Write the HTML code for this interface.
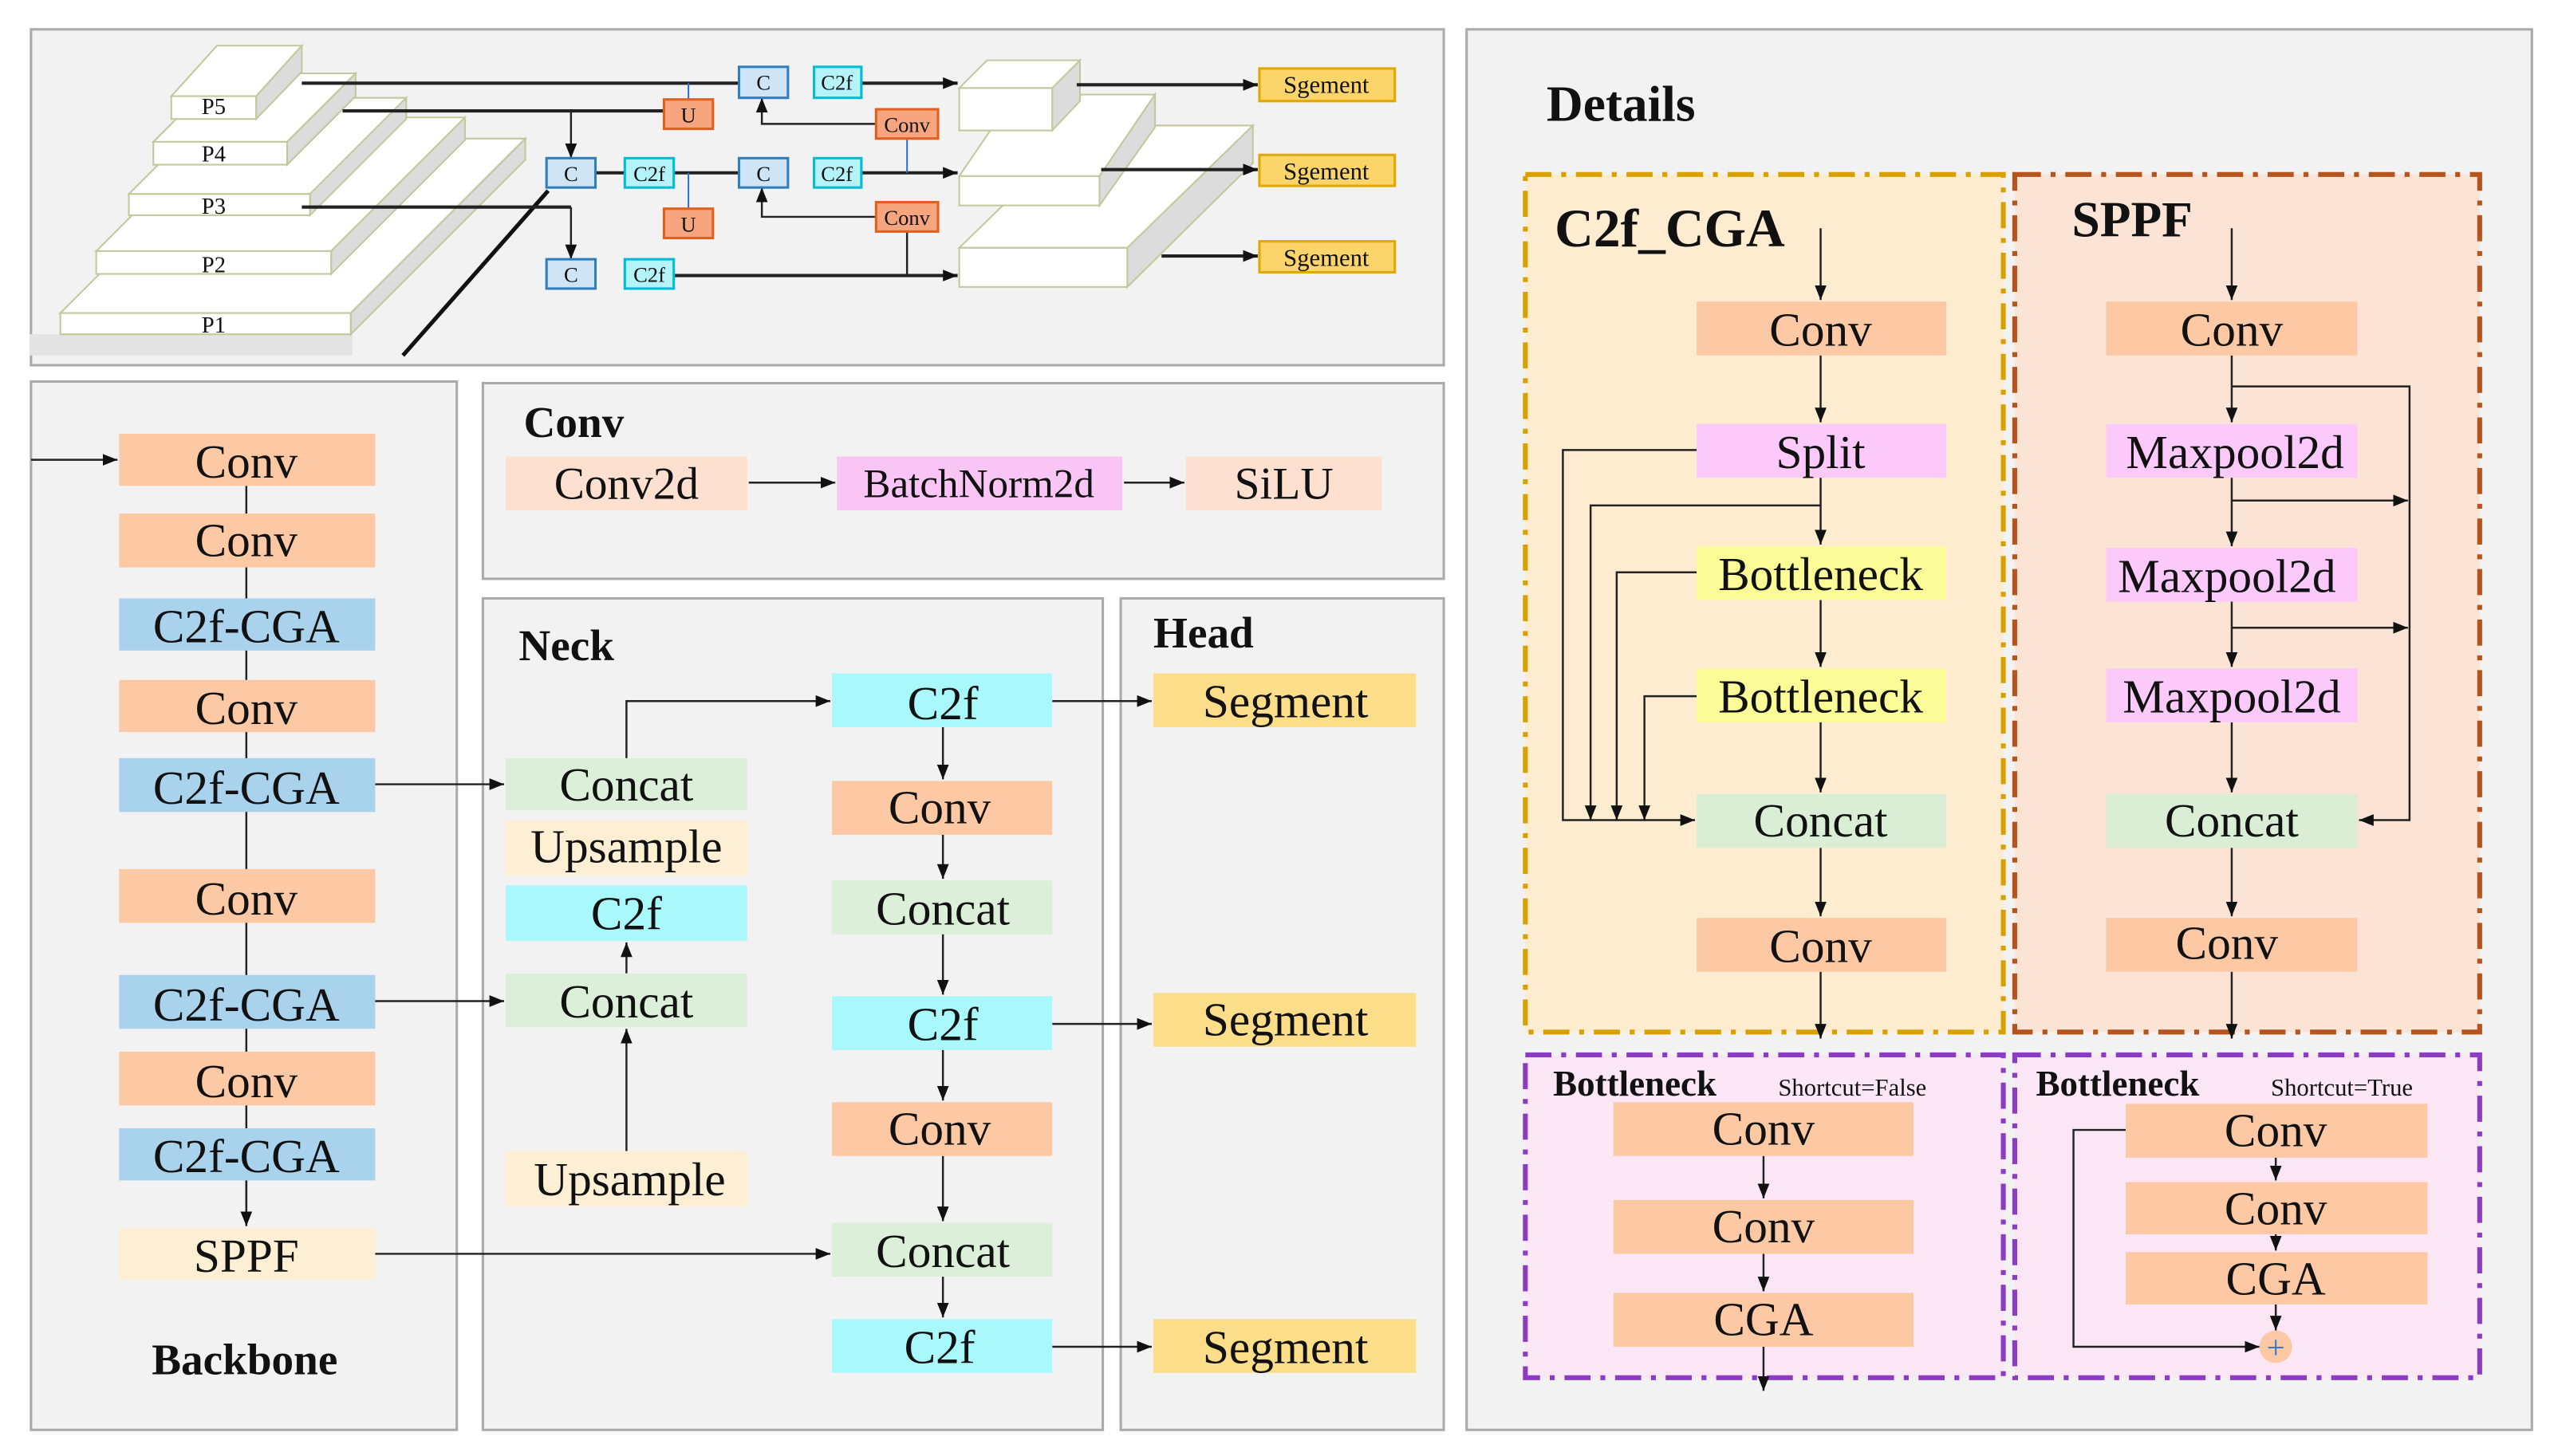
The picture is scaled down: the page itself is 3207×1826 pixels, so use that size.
<!DOCTYPE html>
<html><head><meta charset="utf-8"><style>
html,body{margin:0;padding:0;background:#fff}
svg{display:block}
text{font-family:"Liberation Serif",serif;fill:#111}
</style></head><body>
<svg width="3207" height="1826" viewBox="0 0 1568 893" preserveAspectRatio="none" xmlns="http://www.w3.org/2000/svg">
<defs>
<marker id="a" viewBox="0 0 10 10" refX="10" refY="5" markerWidth="9" markerHeight="9" markerUnits="userSpaceOnUse" orient="auto"><path d="M0,1 L10,5 L0,9 z" fill="#111"/></marker>
</defs>
<rect width="1568" height="893" fill="#fff"/>
<!-- panels -->
<rect x="19" y="18" width="866" height="206" fill="#f2f2f2" stroke="#aaa" stroke-width="1.5"/>
<rect x="19" y="234" width="261" height="643" fill="#f2f2f2" stroke="#aaa" stroke-width="1.5"/>
<rect x="296" y="235" width="589" height="120" fill="#f2f2f2" stroke="#aaa" stroke-width="1.5"/>
<rect x="296" y="367" width="380" height="510" fill="#f2f2f2" stroke="#aaa" stroke-width="1.5"/>
<rect x="687" y="367" width="198" height="510" fill="#f2f2f2" stroke="#aaa" stroke-width="1.5"/>
<rect x="899" y="18" width="653" height="859" fill="#f2f2f2" stroke="#aaa" stroke-width="1.5"/>

<!-- top panel pyramid -->
<g stroke="#c3c79c" stroke-width="1">
<rect x="18" y="205" width="198" height="13" fill="#e4e4e4" stroke="none"/>
<polygon points="37,192 215,192 322,85 144,85" fill="#fff"/>
<polygon points="215,192 322,85 322,98 215,205" fill="#dcdcdc"/>
<rect x="37" y="192" width="178" height="13" fill="#fff"/>
<polygon points="59,154 203,154 285,72 141,72" fill="#fff"/>
<polygon points="203,154 285,72 285,86 203,168" fill="#dcdcdc"/>
<rect x="59" y="154" width="144" height="14" fill="#fff"/>
<polygon points="79,119 190,119 249,60 138,60" fill="#fff"/>
<polygon points="190,119 249,60 249,73 190,132" fill="#dcdcdc"/>
<rect x="79" y="119" width="111" height="13" fill="#fff"/>
<polygon points="94,87 176,87 218,45 136,45" fill="#fff"/>
<polygon points="176,87 218,45 218,59 176,101" fill="#dcdcdc"/>
<rect x="94" y="87" width="82" height="14" fill="#fff"/>
<polygon points="105,59 157,59 185,28 133,28" fill="#fff"/>
<polygon points="157,59 185,28 185,44 157,73" fill="#dcdcdc"/>
<rect x="105" y="59" width="52" height="14" fill="#fff"/>
<!-- right blocks -->
<polygon points="588,152 691,152 768,77 665,77" fill="#fff"/>
<polygon points="691,152 768,77 768,100 691,176" fill="#dcdcdc"/>
<rect x="588" y="152" width="103" height="24" fill="#fff"/>
<polygon points="588,108 674,108 708,58 622,58" fill="#fff"/>
<polygon points="674,108 708,58 708,78 674,126" fill="#dcdcdc"/>
<rect x="588" y="108" width="86" height="18" fill="#fff"/>
<polygon points="588,54 645,54 662,37 605,37" fill="#fff"/>
<polygon points="645,54 662,37 662,62 645,80" fill="#dcdcdc"/>
<rect x="588" y="54" width="57" height="26" fill="#fff"/>
</g>
<g font-size="14" text-anchor="middle">
<text x="131" y="70">P5</text><text x="131" y="99">P4</text><text x="131" y="131">P3</text><text x="131" y="167">P2</text><text x="131" y="204">P1</text>
</g>
<line x1="336" y1="117" x2="247" y2="218" stroke="#111" stroke-width="2.5"/>
<!-- top lines -->
<g stroke="#222" stroke-width="2" fill="none">
<line x1="185" y1="51" x2="453" y2="51"/>
<line x1="528" y1="51" x2="587" y2="51" marker-end="url(#a)"/>
<line x1="210" y1="68" x2="407" y2="68"/>
<line x1="660" y1="52" x2="771" y2="52" marker-end="url(#a)"/>
<line x1="365" y1="106" x2="453" y2="106"/>
<line x1="528" y1="106" x2="587" y2="106" marker-end="url(#a)"/>
<line x1="675" y1="104" x2="771" y2="104" marker-end="url(#a)"/>
<line x1="185" y1="127" x2="350" y2="127"/>
<line x1="413" y1="169" x2="587" y2="169" marker-end="url(#a)"/>
<line x1="712" y1="157" x2="771" y2="157" marker-end="url(#a)"/>
</g>
<g stroke="#222" stroke-width="1.2" fill="none">
<polyline points="350,68 350,97" marker-end="url(#a)"/>
<polyline points="350,127 350,159" marker-end="url(#a)"/>
<polyline points="537,76 467,76 467,60" marker-end="url(#a)"/>
<polyline points="537,133 467,133 467,115" marker-end="url(#a)"/>
<line x1="556" y1="142" x2="556" y2="169"/>
</g>
<g stroke="#2f6fd0" stroke-width="1"><line x1="422" y1="51" x2="422" y2="61"/><line x1="422" y1="106" x2="422" y2="128"/><line x1="556" y1="85" x2="556" y2="106"/></g>
<g font-size="13" text-anchor="middle">
<rect x="453" y="41" width="30" height="19" fill="#cfe5f5" stroke="#2f7fc0" stroke-width="1.5"/><text x="468" y="55">C</text>
<rect x="499" y="41" width="29" height="19" fill="#b5f3fb" stroke="#00bcd4" stroke-width="1.5"/><text x="513" y="55">C2f</text>
<rect x="407" y="61" width="30" height="18" fill="#f6a57f" stroke="#e06020" stroke-width="1.5"/><text x="422" y="75">U</text>
<rect x="537" y="67" width="38" height="18" fill="#f6a57f" stroke="#e06020" stroke-width="1.5"/><text x="556" y="81">Conv</text>
<rect x="335" y="97" width="30" height="18" fill="#cfe5f5" stroke="#2f7fc0" stroke-width="1.5"/><text x="350" y="111">C</text>
<rect x="383" y="97" width="30" height="18" fill="#b5f3fb" stroke="#00bcd4" stroke-width="1.5"/><text x="398" y="111">C2f</text>
<rect x="453" y="97" width="30" height="18" fill="#cfe5f5" stroke="#2f7fc0" stroke-width="1.5"/><text x="468" y="111">C</text>
<rect x="499" y="97" width="29" height="18" fill="#b5f3fb" stroke="#00bcd4" stroke-width="1.5"/><text x="513" y="111">C2f</text>
<rect x="407" y="128" width="30" height="18" fill="#f6a57f" stroke="#e06020" stroke-width="1.5"/><text x="422" y="142">U</text>
<rect x="537" y="124" width="38" height="18" fill="#f6a57f" stroke="#e06020" stroke-width="1.5"/><text x="556" y="138">Conv</text>
<rect x="335" y="159" width="30" height="18" fill="#cfe5f5" stroke="#2f7fc0" stroke-width="1.5"/><text x="350" y="173">C</text>
<rect x="383" y="159" width="30" height="18" fill="#b5f3fb" stroke="#00bcd4" stroke-width="1.5"/><text x="398" y="173">C2f</text>
</g>
<g font-size="15" text-anchor="middle">
<rect x="772" y="42" width="83" height="20" fill="#fbd46a" stroke="#e0a800" stroke-width="1.5"/><text x="813" y="57">Sgement</text>
<rect x="772" y="95" width="83" height="19" fill="#fbd46a" stroke="#e0a800" stroke-width="1.5"/><text x="813" y="110">Sgement</text>
<rect x="772" y="148" width="83" height="19" fill="#fbd46a" stroke="#e0a800" stroke-width="1.5"/><text x="813" y="163">Sgement</text>
</g>

<!-- Backbone -->
<line x1="151" y1="298" x2="151" y2="740" stroke="#222" stroke-width="1.2"/>
<line x1="151" y1="724" x2="151" y2="752" stroke="#222" stroke-width="1.2" marker-end="url(#a)"/>
<line x1="19" y1="282" x2="72" y2="282" stroke="#222" stroke-width="1.2" marker-end="url(#a)"/>
<g font-size="29" text-anchor="middle">
<rect x="73" y="266" width="157" height="32" fill="#fdc9a5"/><text x="151" y="293">Conv</text>
<rect x="73" y="315" width="157" height="33" fill="#fdc9a5"/><text x="151" y="341">Conv</text>
<rect x="73" y="367" width="157" height="32" fill="#a9d3ec"/><text x="151" y="394">C2f-CGA</text>
<rect x="73" y="417" width="157" height="32" fill="#fdc9a5"/><text x="151" y="444">Conv</text>
<rect x="73" y="465" width="157" height="33" fill="#a9d3ec"/><text x="151" y="493">C2f-CGA</text>
<rect x="73" y="533" width="157" height="33" fill="#fdc9a5"/><text x="151" y="561">Conv</text>
<rect x="73" y="598" width="157" height="33" fill="#a9d3ec"/><text x="151" y="626">C2f-CGA</text>
<rect x="73" y="645" width="157" height="33" fill="#fdc9a5"/><text x="151" y="673">Conv</text>
<rect x="73" y="692" width="157" height="32" fill="#a9d3ec"/><text x="151" y="719">C2f-CGA</text>
<rect x="73" y="753" width="157" height="32" fill="#fdefd3"/><text x="151" y="780">SPPF</text>
</g>
<text x="150" y="843" font-size="27" font-weight="bold" text-anchor="middle">Backbone</text>

<!-- Conv panel -->
<text x="321" y="268" font-size="27" font-weight="bold">Conv</text>
<g font-size="28" text-anchor="middle">
<rect x="310" y="280" width="148" height="33" fill="#fde0cf"/><text x="384" y="306">Conv2d</text>
<rect x="513" y="280" width="175" height="33" fill="#f9c5f5"/><text x="600" y="305" font-size="25">BatchNorm2d</text>
<rect x="727" y="280" width="120" height="33" fill="#fde0cf"/><text x="787" y="306">SiLU</text>
</g>
<g stroke="#222" stroke-width="1.2"><line x1="459" y1="296" x2="512" y2="296" marker-end="url(#a)"/><line x1="689" y1="296" x2="726" y2="296" marker-end="url(#a)"/></g>

<!-- Neck -->
<text x="318" y="405" font-size="27" font-weight="bold">Neck</text>
<text x="707" y="397" font-size="27" font-weight="bold">Head</text>
<g stroke="#222" stroke-width="1.2" fill="none">
<line x1="230" y1="481" x2="309" y2="481" marker-end="url(#a)"/>
<line x1="230" y1="614" x2="309" y2="614" marker-end="url(#a)"/>
<line x1="230" y1="769" x2="509" y2="769" marker-end="url(#a)"/>
<line x1="384" y1="706" x2="384" y2="631" marker-end="url(#a)"/>
<line x1="384" y1="597" x2="384" y2="578" marker-end="url(#a)"/>
<polyline points="384,465 384,430 509,430" marker-end="url(#a)"/>
<line x1="578" y1="446" x2="578" y2="478" marker-end="url(#a)"/>
<line x1="578" y1="512" x2="578" y2="539" marker-end="url(#a)"/>
<line x1="578" y1="573" x2="578" y2="610" marker-end="url(#a)"/>
<line x1="578" y1="644" x2="578" y2="675" marker-end="url(#a)"/>
<line x1="578" y1="709" x2="578" y2="749" marker-end="url(#a)"/>
<line x1="578" y1="783" x2="578" y2="808" marker-end="url(#a)"/>
<line x1="645" y1="430" x2="706" y2="430" marker-end="url(#a)"/>
<line x1="645" y1="628" x2="706" y2="628" marker-end="url(#a)"/>
<line x1="645" y1="826" x2="706" y2="826" marker-end="url(#a)"/>
</g>
<g font-size="29" text-anchor="middle">
<rect x="310" y="465" width="148" height="32" fill="#dcefd8"/><text x="384" y="491">Concat</text>
<rect x="310" y="503" width="148" height="34" fill="#fdefd3"/><text x="384" y="529">Upsample</text>
<rect x="310" y="543" width="148" height="34" fill="#a9f9fc"/><text x="384" y="570">C2f</text>
<rect x="310" y="597" width="148" height="33" fill="#dcefd8"/><text x="384" y="624">Concat</text>
<rect x="310" y="706" width="148" height="34" fill="#fdefd3"/><text x="386" y="733">Upsample</text>
<rect x="510" y="413" width="135" height="33" fill="#a9f9fc"/><text x="578" y="441">C2f</text>
<rect x="510" y="479" width="135" height="33" fill="#fdc9a5"/><text x="576" y="505">Conv</text>
<rect x="510" y="540" width="135" height="33" fill="#dcefd8"/><text x="578" y="567">Concat</text>
<rect x="510" y="611" width="135" height="33" fill="#a9f9fc"/><text x="578" y="638">C2f</text>
<rect x="510" y="676" width="135" height="33" fill="#fdc9a5"/><text x="576" y="702">Conv</text>
<rect x="510" y="750" width="135" height="33" fill="#dcefd8"/><text x="578" y="777">Concat</text>
<rect x="510" y="809" width="135" height="33" fill="#a9f9fc"/><text x="576" y="836">C2f</text>
<rect x="707" y="413" width="161" height="33" fill="#fbdd8a"/><text x="788" y="440">Segment</text>
<rect x="707" y="609" width="161" height="33" fill="#fbdd8a"/><text x="788" y="635">Segment</text>
<rect x="707" y="809" width="161" height="33" fill="#fbdd8a"/><text x="788" y="836">Segment</text>
</g>

<!-- Details -->
<text x="948" y="74" font-size="31" font-weight="bold">Details</text>
<rect x="935" y="107" width="293" height="526" fill="#fdeccf" stroke="#d9a000" stroke-width="3" stroke-dasharray="16,6,3,6"/>
<rect x="1235" y="107" width="285" height="526" fill="#fbe3d6" stroke="#b5541c" stroke-width="3" stroke-dasharray="16,6,3,6"/>
<rect x="935" y="647" width="293" height="198" fill="#fbe6f5" stroke="#8b3cc0" stroke-width="3" stroke-dasharray="16,6,3,6"/>
<rect x="1235" y="647" width="285" height="198" fill="#fbe6f5" stroke="#8b3cc0" stroke-width="3" stroke-dasharray="16,6,3,6"/>
<text x="953" y="151" font-size="33" font-weight="bold">C2f_CGA</text>
<text x="1270" y="145" font-size="31" font-weight="bold">SPPF</text>
<g stroke="#222" stroke-width="1.2" fill="none">
<line x1="1116" y1="140" x2="1116" y2="184" marker-end="url(#a)"/>
<line x1="1116" y1="218" x2="1116" y2="259" marker-end="url(#a)"/>
<line x1="1116" y1="293" x2="1116" y2="334" marker-end="url(#a)"/>
<line x1="1116" y1="368" x2="1116" y2="409" marker-end="url(#a)"/>
<line x1="1116" y1="443" x2="1116" y2="486" marker-end="url(#a)"/>
<line x1="1116" y1="520" x2="1116" y2="562" marker-end="url(#a)"/>
<line x1="1116" y1="596" x2="1116" y2="637" marker-end="url(#a)"/>
<polyline points="1040,276 958,276 958,503 1039,503" marker-end="url(#a)"/>
<polyline points="1116,310 975,310 975,503" marker-end="url(#a)"/>
<polyline points="1040,351 991,351 991,503" marker-end="url(#a)"/>
<polyline points="1040,427 1008,427 1008,503" marker-end="url(#a)"/>
<line x1="1368" y1="140" x2="1368" y2="184" marker-end="url(#a)"/>
<line x1="1368" y1="218" x2="1368" y2="259" marker-end="url(#a)"/>
<line x1="1368" y1="293" x2="1368" y2="335" marker-end="url(#a)"/>
<line x1="1368" y1="369" x2="1368" y2="409" marker-end="url(#a)"/>
<line x1="1368" y1="443" x2="1368" y2="486" marker-end="url(#a)"/>
<line x1="1368" y1="520" x2="1368" y2="562" marker-end="url(#a)"/>
<line x1="1368" y1="596" x2="1368" y2="637" marker-end="url(#a)"/>
<polyline points="1368,237 1477,237 1477,503 1446,503" marker-end="url(#a)"/>
<line x1="1368" y1="307" x2="1476" y2="307" marker-end="url(#a)"/>
<line x1="1368" y1="385" x2="1476" y2="385" marker-end="url(#a)"/>
<line x1="1081" y1="709" x2="1081" y2="735" marker-end="url(#a)"/>
<line x1="1081" y1="769" x2="1081" y2="792" marker-end="url(#a)"/>
<line x1="1081" y1="826" x2="1081" y2="853" marker-end="url(#a)"/>
<line x1="1395" y1="710" x2="1395" y2="724" marker-end="url(#a)"/>
<line x1="1395" y1="757" x2="1395" y2="767" marker-end="url(#a)"/>
<line x1="1395" y1="800" x2="1395" y2="816" marker-end="url(#a)"/>
<polyline points="1303,693 1271,693 1271,826 1385,826" marker-end="url(#a)"/>
</g>
<g font-size="29" text-anchor="middle">
<rect x="1040" y="185" width="153" height="33" fill="#fdc9a5"/><text x="1116" y="212">Conv</text>
<rect x="1040" y="260" width="153" height="33" fill="#fbcafb"/><text x="1116" y="287">Split</text>
<rect x="1040" y="335" width="153" height="33" fill="#fbfb98"/><text x="1116" y="362">Bottleneck</text>
<rect x="1040" y="410" width="153" height="33" fill="#fbfb98"/><text x="1116" y="437">Bottleneck</text>
<rect x="1040" y="487" width="153" height="33" fill="#daeed6"/><text x="1116" y="513">Concat</text>
<rect x="1040" y="563" width="153" height="33" fill="#fdc9a5"/><text x="1116" y="590">Conv</text>
<rect x="1291" y="185" width="154" height="33" fill="#fdc9a5"/><text x="1368" y="212">Conv</text>
<rect x="1291" y="260" width="154" height="33" fill="#fbcafb"/><text x="1370" y="287">Maxpool2d</text>
<rect x="1291" y="336" width="154" height="33" fill="#fbcafb"/><text x="1365" y="363">Maxpool2d</text>
<rect x="1291" y="410" width="154" height="33" fill="#fbcafb"/><text x="1368" y="437">Maxpool2d</text>
<rect x="1291" y="487" width="154" height="33" fill="#daeed6"/><text x="1368" y="513">Concat</text>
<rect x="1291" y="563" width="154" height="33" fill="#fdc9a5"/><text x="1365" y="588">Conv</text>
<rect x="989" y="676" width="184" height="33" fill="#fdc9a5"/><text x="1081" y="702">Conv</text>
<rect x="989" y="736" width="184" height="33" fill="#fdc9a5"/><text x="1081" y="762">Conv</text>
<rect x="989" y="793" width="184" height="33" fill="#fdc9a5"/><text x="1081" y="819">CGA</text>
<rect x="1303" y="677" width="185" height="33" fill="#fdc9a5"/><text x="1395" y="703">Conv</text>
<rect x="1303" y="725" width="185" height="32" fill="#fdc9a5"/><text x="1395" y="751">Conv</text>
<rect x="1303" y="768" width="185" height="32" fill="#fdc9a5"/><text x="1395" y="794">CGA</text>
</g>
<text x="952" y="672" font-size="22" font-weight="bold">Bottleneck</text>
<text x="1090" y="672" font-size="15">Shortcut=False</text>
<text x="1248" y="672" font-size="22" font-weight="bold">Bottleneck</text>
<text x="1392" y="672" font-size="15">Shortcut=True</text>
<circle cx="1395" cy="826" r="10" fill="#fdc9a5"/>
<text x="1395" y="833" font-size="20" text-anchor="middle" style="fill:#2f7fd0">+</text>
</svg>
</body></html>
